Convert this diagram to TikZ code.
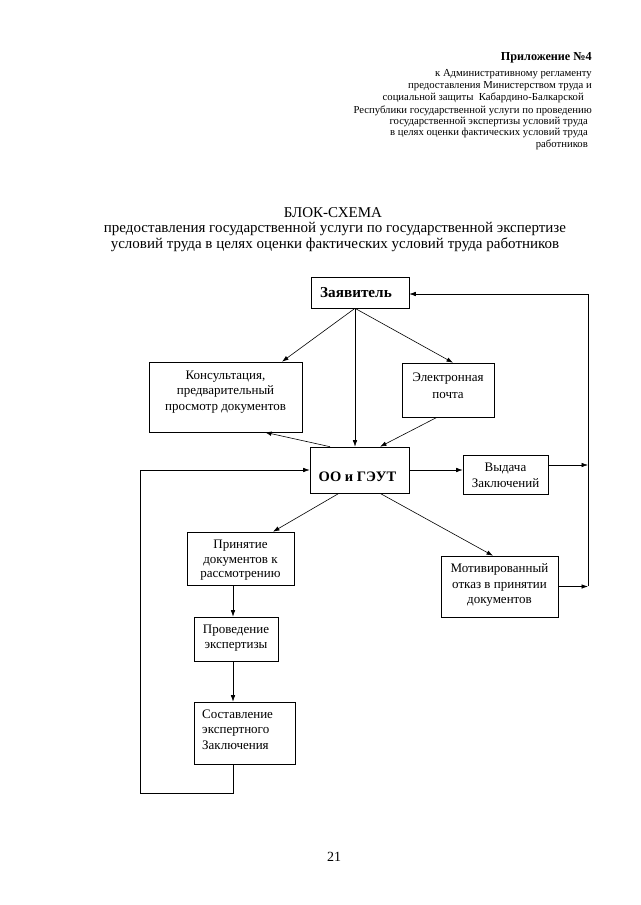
\documentclass[tikz,border=0pt]{standalone}
\usepackage{fontspec}
\setmainfont{Liberation Serif}
\usetikzlibrary{arrows.meta}
\begin{document}
\begin{tikzpicture}[x=1pt,y=-1pt,
  box/.style={draw,line width=0.6pt,inner sep=0pt,rectangle},
  btext/.style={align=center,inner sep=0pt,font=\fontsize{13}{15.5}\selectfont},
  hdr/.style={anchor=base east,inner sep=0pt,font=\fontsize{10.7}{12}\selectfont},
  ttl/.style={anchor=base,inner sep=0pt,font=\fontsize{15}{17}\selectfont},
  conn/.style={draw,line width=0.6pt},
  arr/.style={conn,-{Latex[length=6.5pt,width=4.5pt]}}]
\useasboundingbox[fill=white] (0,0) rectangle (640,905);
% header
\node[hdr,font=\fontsize{12.2}{13}\selectfont\bfseries] (h0) at (592,60.5) {Приложение №4};
\node[hdr] (h1) at (592,76) {к Административному регламенту};
\node[hdr] (h2) at (592,88) {предоставления Министерством труда и};
\node[hdr] (h3) at (584,100.5) {социальной защиты\ \ Кабардино-Балкарской};
\node[hdr] (h4) at (592,113) {Республики государственной услуги по проведению};
\node[hdr] (h5) at (588,124.3) {государственной экспертизы условий труда};
\node[hdr] (h6) at (588,135.5) {в целях оценки фактических условий труда};
\node[hdr] (h7) at (588,147) {работников};
% title
\node[ttl] (t1) at (333,217) {БЛОК-СХЕМА};
\node[ttl] (t2) at (335,232.5) {предоставления государственной услуги по государственной экспертизе};
\node[ttl] (t3) at (335,248.5) {условий труда в целях оценки фактических условий труда работников};
% boxes
\node[box,minimum width=98pt,minimum height=31pt] (z) at (360,292.5) {};
\node[inner sep=0pt,font=\fontsize{15.2}{16}\selectfont\bfseries] (zt) at (356,293) {Заявитель};
\node[box,minimum width=153pt,minimum height=70pt] (k) at (225.5,397) {};
\node[btext] (kt) at (225.5,392) {Консультация,\\предварительный\\просмотр документов};
\node[box,minimum width=92pt,minimum height=54pt] (e) at (448,390) {};
\node[btext,font=\fontsize{13}{17}\selectfont] (et) at (448,385.5) {Электронная\\почта};
\node[box,minimum width=99pt,minimum height=46pt] (oo) at (359.5,470) {};
\node[inner sep=0pt,font=\fontsize{14.5}{16}\selectfont\bfseries] (oot) at (357.5,476.5) {ОО и ГЭУТ};
\node[box,minimum width=85pt,minimum height=39pt] (v) at (505.5,474.5) {};
\node[btext,font=\fontsize{13}{16}\selectfont] (vt) at (505.5,475.5) {Выдача\\Заключений};
\node[box,minimum width=117pt,minimum height=61pt] (m) at (499.5,586.5) {};
\node[btext] (mt) at (499.5,585) {Мотивированный\\отказ в принятии\\документов};
\node[box,minimum width=107pt,minimum height=53pt] (p) at (240.5,558.5) {};
\node[btext,font=\fontsize{13}{14.5}\selectfont] (pt) at (240.5,560.5) {Принятие\\документов к\\рассмотрению};
\node[box,minimum width=84pt,minimum height=44pt] (pr) at (236,639) {};
\node[btext] (prt) at (236,638) {Проведение\\экспертизы};
\node[box,minimum width=101pt,minimum height=62pt] (s) at (244.5,733) {};
\node[btext,align=left,anchor=west] (st) at (202,729.5) {Составление\\экспертного\\Заключения};
% coordinates
\coordinate (rt) at (588,294);
\coordinate (rb) at (588,586);
\coordinate (lb) at (140,793);
\coordinate (lt) at (140,470);
% connectors
\draw[arr] ([xshift=-5pt]z.south) -- ([xshift=56.5pt]k.north);
\draw[arr] ([xshift=-5pt]z.south) -- ([xshift=-4.5pt]oo.north);
\draw[arr] ([xshift=-5pt]z.south) -- ([xshift=5pt]e.north);
\draw[arr] ([xshift=-29.5pt]oo.north) -- ([xshift=39.5pt]k.south);
\draw[arr] ([xshift=-11pt]e.south) -- ([xshift=20.5pt]oo.north);
\draw[arr] (oo.east) -- (oo.east -| v.west);
\draw[arr] ([yshift=9.5pt]v.east) -- ([yshift=9.5pt]v.east -| rt);
\draw[arr] (m.east) -- (m.east -| rb);
\draw[arr] (rb) -- (rt) -- (z.east |- rt);
\draw[arr] ([xshift=-20.5pt]oo.south) -- ([xshift=32.5pt]p.north);
\draw[arr] ([xshift=20.5pt]oo.south) -- ([xshift=-6.5pt]m.north);
\draw[arr] ([xshift=-7.5pt]p.south) -- ([xshift=-7.5pt]p.south |- pr.north);
\draw[arr] ([xshift=-3pt]pr.south) -- ([xshift=-3pt]pr.south |- s.north);
\draw[arr] ([xshift=-11.5pt]s.south) -- ([xshift=-11.5pt]s.south |- lb) -- (lb) -- (lt) -- (oo.west);
% page number
\node[inner sep=0pt,font=\fontsize{14}{16}\selectfont] (pg) at (334,857) {21};
\end{tikzpicture}
\end{document}
